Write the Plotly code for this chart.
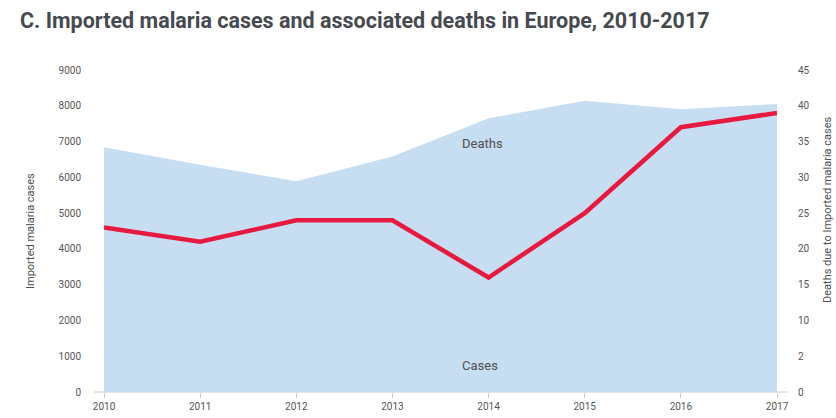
import plotly.graph_objects as go

years = [2010, 2011, 2012, 2013, 2014, 2015, 2016, 2017]
cases = [6840, 6350, 5890, 6580, 7650, 8140, 7900, 8050]
deaths = [23, 21, 24, 24, 16, 25, 37, 39]

left_ticks = [0, 1000, 2000, 3000, 4000, 5000, 6000, 7000, 8000, 9000]
right_tickvals = [0, 5, 10, 15, 20, 25, 30, 35, 40, 45]
right_ticktext = ["0", "2", "10", "15", "20", "25", "30", "35", "40", "45"]

title_text = "C. Imported malaria cases and associated deaths in Europe, 2010-2017"
left_title = "Imported malaria cases"
right_title = "Deaths due to Imported malaria cases"

FONT = "Roboto"
TICK_COLOR = "#555555"

fig = go.Figure()
fig.add_trace(go.Scatter(
    x=years, y=cases, mode="none", fill="tozeroy",
    fillcolor="#c7ddf1", name="Cases", hoverinfo="skip"))
fig.add_trace(go.Scatter(
    x=years, y=deaths, mode="lines", yaxis="y2",
    line=dict(color="#e8193e", width=4.5), name="Deaths"))

fig.update_layout(
    width=836, height=418,
    margin=dict(l=104, r=59, t=70, b=26, autoexpand=False),
    paper_bgcolor="white", plot_bgcolor="white",
    showlegend=False,
    font=dict(family=FONT, color=TICK_COLOR, size=10),
    title=dict(text=title_text, x=20/836, xanchor="left", y=1 - 20/418, yanchor="middle",
               pad=dict(l=0, r=0, t=0, b=0),
               font=dict(family=FONT, size=21.5, color="#464a50", weight="bold")),
    xaxis=dict(range=[2010, 2017], tickvals=years, ticks="outside", ticklen=5,
               tickcolor="#cccccc", showgrid=False, zeroline=False, showline=False,
               automargin=False, tickfont=dict(size=10, color=TICK_COLOR)),
    yaxis=dict(range=[0, 9000], tickvals=left_ticks, showgrid=False, zeroline=False,
               showline=False, ticks="", ticklabelstandoff=22, automargin=False,
               tickfont=dict(size=10, color=TICK_COLOR)),
    yaxis2=dict(range=[0, 45], tickvals=right_tickvals, ticktext=right_ticktext,
                overlaying="y", side="right", showgrid=False, zeroline=False,
                showline=False, ticks="", ticklabelstandoff=20, automargin=False,
                tickfont=dict(size=10, color=TICK_COLOR)),
    shapes=[dict(type="line", xref="paper", yref="paper", x0=-0.015, x1=1.015, y0=0, y1=0,
                 line=dict(color="#cccccc", width=1), layer="below")],
    annotations=[
        dict(text=left_title, xref="paper", yref="paper", x=-(104 - 30) / 673, y=0.5,
             textangle=-90, showarrow=False, xanchor="center", yanchor="middle",
             font=dict(family=FONT, size=11, color="#505050")),
        dict(text=right_title, xref="paper", yref="paper", x=1 + (827 - 777) / 673,
             y=(392 - 210) / 322,
             textangle=-90, showarrow=False, xanchor="center", yanchor="middle",
             font=dict(family=FONT, size=11, color="#505050")),
        dict(text="Deaths", xref="paper", yref="paper", x=(482 - 104) / 673,
             y=(392 - 143) / 322, showarrow=False, xanchor="center", yanchor="middle",
             font=dict(family=FONT, size=13, color="#505050")),
        dict(text="Cases", xref="paper", yref="paper", x=(480 - 104) / 673,
             y=(392 - 365) / 322, showarrow=False, xanchor="center", yanchor="middle",
             font=dict(family=FONT, size=13, color="#505050")),
    ],
)

fig.write_html("out.html", config={"displayModeBar": False},
               post_script="document.body.style.margin='0';")
